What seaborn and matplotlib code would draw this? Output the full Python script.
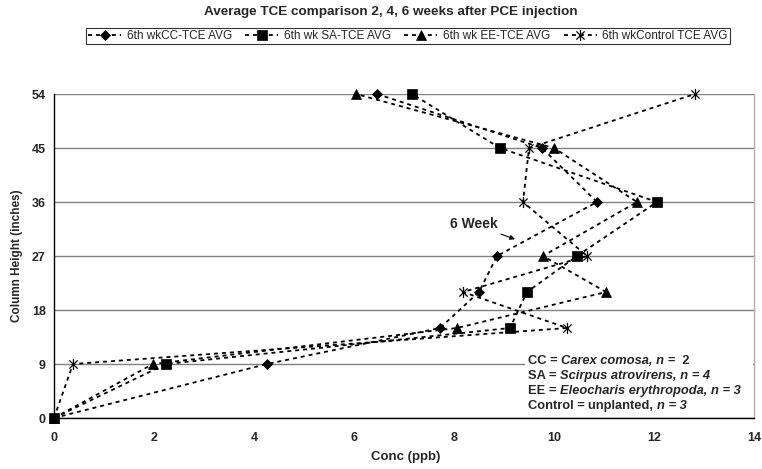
import matplotlib
matplotlib.use("Agg")
import matplotlib.pyplot as plt
from matplotlib.path import Path
from matplotlib.lines import Line2D
from matplotlib.patches import Rectangle
import seaborn as sns
import pandas as pd

# ---- data ----
heights = [0, 9, 15, 21, 27, 36, 45, 54]
cc_tce = [0, 4.26, 7.72, 8.50, 8.86, 10.86, 9.76, 6.46]
sa_tce = [0, 2.24, 9.12, 9.46, 10.46, 12.06, 8.92, 7.16]
ee_tce = [0, 1.98, 8.06, 11.04, 9.78, 11.66, 10.00, 6.04]
control_tce = [0, 0.38, 10.26, 8.18, 10.66, 9.38, 9.50, 12.82]
series_names = ["6th wkCC-TCE AVG", "6th wk SA-TCE AVG", "6th wk EE-TCE AVG", "6th wkControl TCE AVG"]
x_ticks = [0, 2, 4, 6, 8, 10, 12, 14]
y_ticks = [0, 9, 18, 27, 36, 45, 54]
title = "Average TCE comparison 2, 4, 6 weeks after PCE injection"

sns.set_style("white")
plt.rcParams['font.family'] = ['Liberation Sans', 'DejaVu Sans']

star = Path([(-1, -1), (1, 1), (-1, 1), (1, -1), (0, -1.35), (0, 1.35)],
            [Path.MOVETO, Path.LINETO, Path.MOVETO, Path.LINETO, Path.MOVETO, Path.LINETO])
markers = ['D', 's', '^', star]
msizes = [5.5, 6.5, 7, 8]

fig = plt.figure(figsize=(7.62, 4.69), dpi=100)
ax = fig.add_axes([54 / 762, 1 - 418 / 469, 700 / 762, 324 / 469])

dash = (0, (2.2, 2.2))
handles = []
for name, vals, mk, ms in zip(series_names, [cc_tce, sa_tce, ee_tce, control_tce], markers, msizes):
    df = pd.DataFrame({"conc": vals, "height": heights})
    sns.lineplot(data=df, x="conc", y="height", sort=False, estimator=None, ax=ax,
                 color="black", linestyle=dash, linewidth=1.3, marker=mk, markersize=ms,
                 markerfacecolor="black", markeredgecolor="black",
                 markeredgewidth=0.9 if mk is star else 0.5, clip_on=False, zorder=5, label=name)
    handles.append(Line2D([], [], color="black", linestyle=dash, linewidth=1.3, marker=mk,
                          markersize=ms, markerfacecolor="black", markeredgecolor="black",
                          markeredgewidth=0.9 if mk is star else 0.5))
if ax.get_legend():
    ax.get_legend().remove()

ax.set_xlim(0, 14)
ax.set_ylim(0, 54)
ax.set_xticks(x_ticks)
ax.set_yticks(y_ticks)
ax.set_xticklabels([str(t) for t in x_ticks], fontweight="bold", fontsize=9)
ax.set_yticklabels([str(t) for t in y_ticks], fontweight="bold", fontsize=9)
ax.tick_params(axis="both", direction="out", length=4, width=1, color="black", pad=2)
ax.tick_params(axis="x", pad=6)
ax.yaxis.grid(True, color="#808080", linewidth=1)
ax.xaxis.grid(False)
ax.set_axisbelow(True)
for s in ["left", "bottom"]:
    ax.spines[s].set_color("black")
    ax.spines[s].set_linewidth(1)
ax.spines["top"].set_visible(False)
ax.spines["right"].set_color("#b0b0b0")
ax.spines["right"].set_linewidth(1)
ax.set_xlabel("")
ax.set_ylabel("")

fig.text(406 / 762, 1 - 457 / 469, "Conc (ppb)", ha="center", va="center", fontweight="bold", fontsize=9.5)
fig.text(17 / 762, 1 - 256 / 469, "Column Height (inches)", ha="center", va="center",
         rotation=90, fontweight="bold", fontsize=8.5)
fig.text(391 / 762, 1 - 12 / 469, title, ha="center", va="center", fontweight="bold", fontsize=9.7)

leg = fig.legend(handles, series_names, loc="center", bbox_to_anchor=(408 / 762, 1 - 36 / 469),
                 ncol=4, fontsize=8.5, frameon=True, fancybox=False, handlelength=2.8,
                 handletextpad=0.5, columnspacing=1.1, borderpad=0.2, edgecolor="black")
leg.get_frame().set_linewidth(0.8)

# annotation
ax.annotate("6 Week", xy=(9.22, 29.8), xytext=(7.92, 32.3), fontsize=10, fontweight="bold",
            ha="left", va="center",
            arrowprops=dict(arrowstyle="-|>", color="black", lw=0.8, mutation_scale=7, shrinkA=0, shrinkB=0))

# species key box
ax.add_patch(Rectangle((9.42, 0.6), 4.55, 9.7, facecolor="white", edgecolor="none", zorder=3))
key_lines = [
    [("CC = ", "normal"), ("Carex comosa, n =", "italic"), ("  2", "normal")],
    [("SA = ", "normal"), ("Scirpus atrovirens, n = 4", "italic")],
    [("EE = ", "normal"), ("Eleocharis erythropoda, n = 3", "italic")],
    [("Control = ", "normal"), ("unplanted, ", "normal"), ("n = 3", "italic")],
]
ys = [9.5, 7.0, 4.5, 2.0]
for parts, yv in zip(key_lines, ys):
    prev = None
    for txt, style in parts:
        if prev is None:
            prev = ax.text(9.48, yv, txt, fontsize=9.3, fontweight="bold", style=style,
                           ha="left", va="center", zorder=4)
        else:
            prev = ax.annotate(txt, xy=(1, 0), xycoords=prev, fontsize=9.3, fontweight="bold",
                               style=style, ha="left", va="bottom", zorder=4)

fig.savefig("out.png", dpi=100)
